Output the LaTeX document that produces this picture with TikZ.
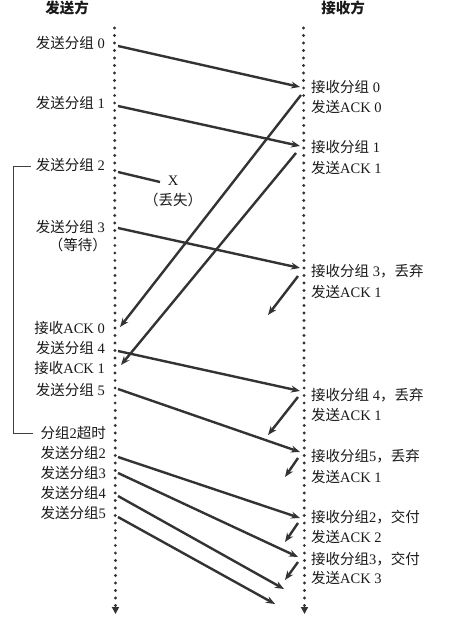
\documentclass[tikz,border=0pt]{standalone}
\usepackage{fontspec}
\setmainfont{Liberation Serif}
\newfontfamily\cjk{Noto Sans CJK SC}
\usetikzlibrary{arrows.meta}
\newcommand\zh[1]{{\cjk #1}}
\begin{document}
\begin{tikzpicture}[x=1pt,y=-1pt,
  every node/.style={inner sep=0pt, font=\fontsize{14.5}{16}\selectfont, text=black!90},
  slab/.style={anchor=east},
  rlab/.style={anchor=west},
  timeline/.style={draw=black!80, line width=3.2pt, line cap=round, dash pattern=on 0pt off 7.5pt,
    -{Triangle[width=7pt,length=7pt]}},
  msg/.style={draw=black!80, line width=2.4pt, -{Stealth[length=9pt,width=7pt]}},
  lost/.style={draw=black!80, line width=2.4pt},
  bracket/.style={draw=black!75, line width=0.8pt}]
\useasboundingbox (0,0) rectangle (467,617);
% headers
\node[font=\fontsize{14.5}{16}\selectfont\bfseries\cjk] (hs) at (67,8) {发送方};
\node[font=\fontsize{14.5}{16}\selectfont\bfseries\cjk] (hr) at (343,8) {接收方};
% time lines
\coordinate (sTop) at (114.5,28);
\coordinate (sBot) at (115.5,614);
\coordinate (rTop) at (303.5,28);
\coordinate (rBot) at (304.5,614);
\draw[timeline] (sTop) -- (sBot);
\draw[timeline] (rTop) -- (rBot);
% sender labels
\node[slab] (s0) at (105,43) {\zh{发送分组} 0};
\node[slab] (s1) at (105,103) {\zh{发送分组} 1};
\node[slab] (s2) at (105,165) {\zh{发送分组} 2};
\node[slab] (s3) at (105,227) {\zh{发送分组} 3};
\node[slab] (s3w) at (107,245) {\zh{（等待）}};
\node[slab] (ra0) at (105,328) {\zh{接收}ACK 0};
\node[slab] (s4) at (105,348) {\zh{发送分组} 4};
\node[slab] (ra1) at (105,368) {\zh{接收}ACK 1};
\node[slab] (s5) at (105,390) {\zh{发送分组} 5};
\node[slab] (to2) at (106,433) {\zh{分组}2\zh{超时}};
\node[slab] (rs2) at (106,453) {\zh{发送分组}2};
\node[slab] (rs3) at (106,473) {\zh{发送分组}3};
\node[slab] (rs4) at (106,493) {\zh{发送分组}4};
\node[slab] (rs5) at (106,513) {\zh{发送分组}5};
% receiver labels
\node[rlab] (g0) at (311,87) {\zh{接收分组} 0};
\node[rlab] (k0) at (311,107) {\zh{发送}ACK 0};
\node[rlab] (g1) at (311,147) {\zh{接收分组} 1};
\node[rlab] (k1) at (311,168) {\zh{发送}ACK 1};
\node[rlab] (g3) at (311,271) {\zh{接收分组} 3\zh{，丢弃}};
\node[rlab] (k1b) at (311,292) {\zh{发送}ACK 1};
\node[rlab] (g4) at (311,395) {\zh{接收分组} 4\zh{，丢弃}};
\node[rlab] (k1c) at (311,415) {\zh{发送}ACK 1};
\node[rlab] (g5) at (311,456) {\zh{接收分组}5\zh{，丢弃}};
\node[rlab] (k1d) at (311,477) {\zh{发送}ACK 1};
\node[rlab] (g2) at (311,517) {\zh{接收分组}2\zh{，交付}};
\node[rlab] (k2) at (311,537) {\zh{发送}ACK 2};
\node[rlab] (g3b) at (311,559) {\zh{接收分组}3\zh{，交付}};
\node[rlab] (k3) at (311,578) {\zh{发送}ACK 3};
% lost packet
\node (x) at (173,181) {X};
\node (lostlab) at (173,200) {\zh{（丢失）}};
% endpoints
\coordinate (p0a) at (118,46);  \coordinate (p0b) at (300,87);
\coordinate (p1a) at (118,106); \coordinate (p1b) at (300,146);
\coordinate (p2a) at (118,172); \coordinate (p2b) at (160,182);
\coordinate (p3a) at (118,228); \coordinate (p3b) at (300,268);
\coordinate (p4a) at (118,351); \coordinate (p4b) at (300,391);
\coordinate (p5a) at (118,389); \coordinate (p5b) at (300,452);
\coordinate (q2a) at (118,457); \coordinate (q2b) at (300,518);
\coordinate (q3a) at (118,473); \coordinate (q3b) at (298,557);
\coordinate (q4a) at (118,496); \coordinate (q4b) at (284,589);
\coordinate (q5a) at (118,517); \coordinate (q5b) at (275,604);
\coordinate (c0a) at (301,95);  \coordinate (c0b) at (120,327);
\coordinate (c1a) at (296,153); \coordinate (c1b) at (121,365);
\coordinate (d3a) at (298,276); \coordinate (d3b) at (268,315);
\coordinate (d4a) at (298,397); \coordinate (d4b) at (268,435);
\coordinate (d5a) at (298,458); \coordinate (d5b) at (285,477);
\coordinate (d2a) at (298,523); \coordinate (d2b) at (285,542);
\coordinate (d6a) at (298,562); \coordinate (d6b) at (285,580);
% packets
\draw[msg] (p0a) -- (p0b);
\draw[msg] (p1a) -- (p1b);
\draw[lost] (p2a) -- (p2b);
\draw[msg] (p3a) -- (p3b);
\draw[msg] (p4a) -- (p4b);
\draw[msg] (p5a) -- (p5b);
\draw[msg] (q2a) -- (q2b);
\draw[msg] (q3a) -- (q3b);
\draw[msg] (q4a) -- (q4b);
\draw[msg] (q5a) -- (q5b);
% acks
\draw[msg] (c0a) -- (c0b);
\draw[msg] (c1a) -- (c1b);
\draw[msg] (d3a) -- (d3b);
\draw[msg] (d4a) -- (d4b);
\draw[msg] (d5a) -- (d5b);
\draw[msg] (d2a) -- (d2b);
\draw[msg] (d6a) -- (d6b);
% timer bracket
\coordinate (bt) at (31,166);
\coordinate (bb) at (33,433);
\draw[bracket] (bt) -- (13.5,166) -- (13.5,433) -- (bb);
\end{tikzpicture}
\end{document}
